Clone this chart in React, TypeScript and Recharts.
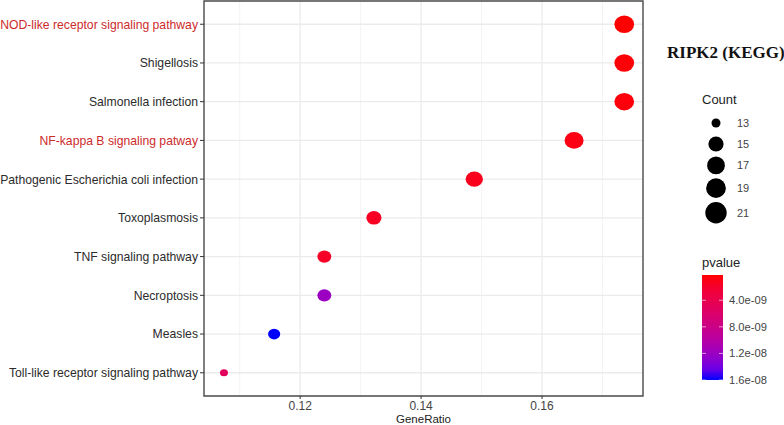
import React from "react";
import {
  ScatterChart,
  Scatter,
  XAxis,
  YAxis,
  CartesianGrid,
  ReferenceArea,
} from "recharts";

// KEGG enrichment for RIPK2, top row first
const PATHWAYS = [
  "NOD-like receptor signaling pathway",
  "Shigellosis",
  "Salmonella infection",
  "NF-kappa B signaling patway",
  "Pathogenic Escherichia coli infection",
  "Toxoplasmosis",
  "TNF signaling pathway",
  "Necroptosis",
  "Measles",
  "Toll-like receptor signaling pathway",
];
const HIGHLIGHT = ["NOD-like receptor signaling pathway", "NF-kappa B signaling patway"];
const GENE_RATIO = [0.1736, 0.1736, 0.1736, 0.1653, 0.1488, 0.1322, 0.124, 0.124, 0.1157, 0.1074];
const COUNTS = [21, 21, 21, 20, 18, 16, 15, 15, 14, 13];
const PVALUES = [2e-10, 4e-10, 5e-10, 7e-10, 1.1e-9, 1.4e-9, 1.6e-9, 1.2e-8, 1.6e-8, 5e-9];

const X_TICKS = [0.12, 0.14, 0.16];
const X_MINOR = [0.11, 0.13, 0.15, 0.17];
const X_DOMAIN = [0.1041, 0.1767];
const SIZE_BREAKS = [13, 15, 17, 19, 21];
const P_BREAKS = [4e-9, 8e-9, 1.2e-8, 1.6e-8];
const P_LABELS = ["4.0e-09", "8.0e-09", "1.2e-08", "1.6e-08"];

const P_MIN = 2e-10;
const P_MAX = 1.6e-8;
const C_MIN = 13;
const C_MAX = 21;

const FONT = "'Liberation Sans', Arial, sans-serif";

const data = PATHWAYS.map((name, i) => ({
  name,
  idx: PATHWAYS.length - i,
  gr: GENE_RATIO[i],
  count: COUNTS[i],
  p: PVALUES[i],
}));

// red -> blue gradient interpolated in CIELAB, like ggplot's continuous colour scale
const toLin = (c: number) => (c <= 0.04045 ? c / 12.92 : ((c + 0.055) / 1.055) ** 2.4);
const fromLin = (c: number) => (c <= 0.0031308 ? 12.92 * c : 1.055 * c ** (1 / 2.4) - 0.055);
const fLab = (t: number) => (t > 0.008856 ? Math.cbrt(t) : 7.787 * t + 16 / 116);
const fInv = (t: number) => (t ** 3 > 0.008856 ? t ** 3 : (t - 16 / 116) / 7.787);

function hexToLab(hex: string) {
  const r = toLin(parseInt(hex.slice(1, 3), 16) / 255);
  const g = toLin(parseInt(hex.slice(3, 5), 16) / 255);
  const b = toLin(parseInt(hex.slice(5, 7), 16) / 255);
  const x = (0.4124 * r + 0.3576 * g + 0.1805 * b) / 0.95047;
  const y = 0.2126 * r + 0.7152 * g + 0.0722 * b;
  const z = (0.0193 * r + 0.1192 * g + 0.9505 * b) / 1.08883;
  return [116 * fLab(y) - 16, 500 * (fLab(x) - fLab(y)), 200 * (fLab(y) - fLab(z))];
}

function labToHex([L, a, bb]: number[]) {
  const fy = (L + 16) / 116;
  const x = 0.95047 * fInv(fy + a / 500);
  const y = fInv(fy);
  const z = 1.08883 * fInv(fy - bb / 200);
  const rgb = [
    3.2406 * x - 1.5372 * y - 0.4986 * z,
    -0.9689 * x + 1.8758 * y + 0.0415 * z,
    0.0557 * x - 0.204 * y + 1.057 * z,
  ];
  return (
    "#" +
    rgb
      .map((c) => Math.round(Math.min(1, Math.max(0, fromLin(Math.max(0, c)))) * 255))
      .map((v) => v.toString(16).padStart(2, "0"))
      .join("")
  );
}

const LOW = hexToLab("#ff0000");
const HIGH = hexToLab("#0000ff");

function pColor(p: number) {
  const t = Math.min(1, Math.max(0, (p - P_MIN) / (P_MAX - P_MIN)));
  return labToHex(LOW.map((v, k) => v + (HIGH[k] - v) * t));
}

// ggplot-style area scale: radius grows with sqrt of rescaled count
function radius(count: number, rMin: number, rMax: number) {
  return rMin + (rMax - rMin) * Math.sqrt((count - C_MIN) / (C_MAX - C_MIN));
}

function Dot(props: any) {
  const { cx, cy, payload } = props;
  if (cx == null || cy == null) return null;
  const r = radius(payload.count, 3.8, 9.3);
  return <ellipse cx={cx} cy={cy} rx={r * 1.06} ry={r * 0.94} fill={pColor(payload.p)} />;
}

function PathwayTick(props: any) {
  const { x, y, payload } = props;
  const name = PATHWAYS[PATHWAYS.length - payload.value];
  const red = HIGHLIGHT.includes(name);
  return (
    <text x={x} y={y} dy="0.36em" textAnchor="end" fontSize={12.2} fontFamily={FONT} fill={red ? "#cc2b2b" : "#2b2b2b"}>
      {name}
    </text>
  );
}

function Legends() {
  const keyH = SIZE_BREAKS.map((c) => Math.max(2 * radius(c, 4.5, 10.7) + 4, 21));
  const ys: number[] = [];
  keyH.forEach((h, i) => ys.push(i === 0 ? 123 : ys[i - 1] + (keyH[i - 1] + h) / 2));

  const barTop = 275;
  const barH = 105;
  const stops = [0, 0.1, 0.2, 0.3, 0.4, 0.5, 0.6, 0.7, 0.8, 0.9, 1];
  const pY = (p: number) => barTop + ((p - P_MIN) / (P_MAX - P_MIN)) * barH;

  return (
    <svg width={784} height={425} style={{ position: "absolute", left: 0, top: 0, pointerEvents: "none" }}>
      <defs>
        <linearGradient id="pgrad" x1="0" y1="0" x2="0" y2="1">
          {stops.map((s) => (
            <stop key={s} offset={s} stopColor={pColor(P_MIN + s * (P_MAX - P_MIN))} />
          ))}
        </linearGradient>
      </defs>
      <text x={667} y={58} fontFamily="'Liberation Serif', 'Times New Roman', serif" fontWeight="bold" fontSize={17} fill="#111">
        RIPK2 (KEGG)
      </text>

      <text x={702} y={104} fontFamily={FONT} fontSize={13} fill="#222">Count</text>
      {SIZE_BREAKS.map((c, i) => (
        <g key={c}>
          <circle cx={716} cy={ys[i]} r={radius(c, 4.5, 10.7)} fill="#000" />
          <text x={737} y={ys[i]} dy="0.36em" fontFamily={FONT} fontSize={11} fill="#444">{c}</text>
        </g>
      ))}

      <text x={702} y={267} fontFamily={FONT} fontSize={13} fill="#222">pvalue</text>
      <rect x={702} y={barTop} width={21} height={barH} fill="url(#pgrad)" />
      {P_BREAKS.map((p, i) => (
        <g key={p}>
          <line x1={702} x2={706} y1={pY(p)} y2={pY(p)} stroke="#fff" strokeOpacity={0.6} />
          <line x1={719} x2={723} y1={pY(p)} y2={pY(p)} stroke="#fff" strokeOpacity={0.6} />
          <text x={729} y={pY(p)} dy="0.36em" fontFamily={FONT} fontSize={11.2} fill="#444">{P_LABELS[i]}</text>
        </g>
      ))}
    </svg>
  );
}

export default function App() {
  const yTicks = data.map((d) => d.idx);
  return (
    <div style={{ position: "absolute", left: 0, top: 0, width: 784, height: 425, background: "#fff" }}>
      <ScatterChart width={784} height={425} margin={{ top: 1, right: 141, bottom: 0, left: 0 }}>
        <CartesianGrid verticalValues={X_MINOR} horizontal={false} stroke="#f0f0f0" strokeWidth={0.8} />
        <CartesianGrid verticalValues={X_TICKS} horizontalValues={yTicks} stroke="#ebebeb" strokeWidth={1.3} />
        <XAxis
          type="number"
          dataKey="gr"
          domain={X_DOMAIN}
          ticks={X_TICKS}
          allowDataOverflow
          height={29}
          axisLine={false}
          tickSize={3}
          tickLine={{ stroke: "#333" }}
          tick={{ fill: "#444", fontSize: 12, fontFamily: FONT }}
          label={{ value: "GeneRatio", position: "insideBottom", offset: 2, fill: "#222", fontSize: 11.5, fontFamily: FONT }}
        />
        <YAxis
          type="number"
          dataKey="idx"
          domain={[0.4, 10.6]}
          ticks={yTicks}
          interval={0}
          allowDataOverflow
          width={204}
          axisLine={false}
          tickSize={4}
          tickMargin={2}
          tickLine={{ stroke: "#333" }}
          tick={<PathwayTick />}
        />
        <ReferenceArea x1={X_DOMAIN[0]} x2={X_DOMAIN[1]} y1={0.4} y2={10.6} fill="none" stroke="#4a4a4a" strokeWidth={1.4} ifOverflow="visible" />
        <Scatter data={data} shape={<Dot />} isAnimationActive={false} />
      </ScatterChart>
      <Legends />
    </div>
  );
}
